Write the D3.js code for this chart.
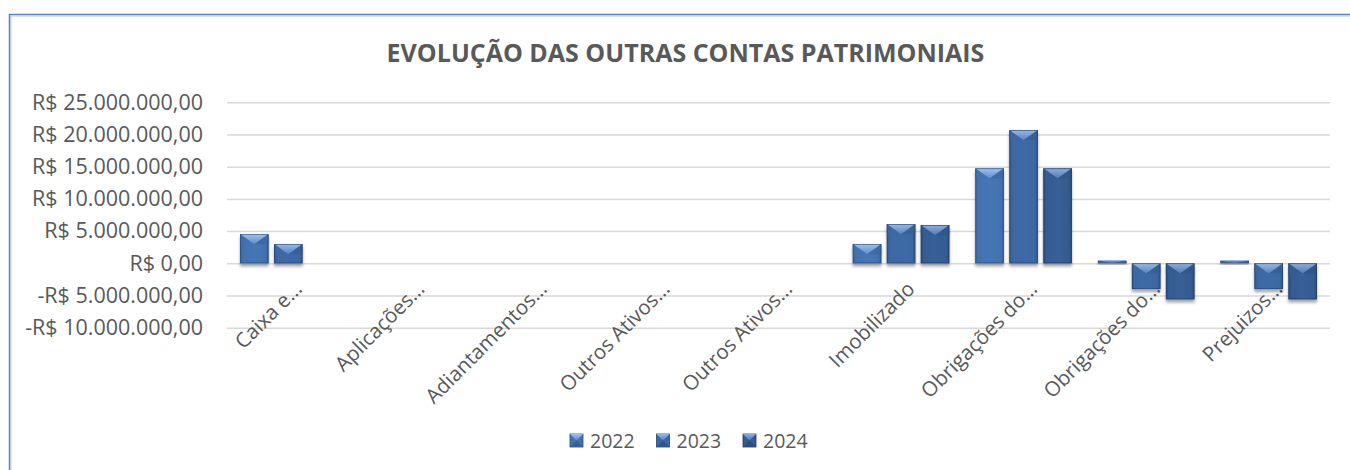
<!DOCTYPE html>
<html>
<head>
<meta charset="utf-8">
<script src="https://cdn.jsdelivr.net/npm/d3@7"></script>
<style>
  html, body { margin: 0; padding: 0; background: #fff; }
  svg { display: block; font-family: "Open Sans", sans-serif; }
</style>
</head>
<body>
<div id="chart"></div>
<script>
// -- chart data --
const categories = [
  'Caixa e…', 'Aplicações…', 'Adiantamentos…', 'Outros Ativos…', 'Outros Ativos…',
  'Imobilizado', 'Obrigações do…', 'Obrigações do…', 'Prejuizos…'
];
const years = ['2022', '2023', '2024'];
const values2022 = [4550000, 0, 0, 0, 0, 3000000, 14750000, 400000, 400000];
const values2023 = [3000000, 0, 0, 0, 0, 6100000, 20700000, -4000000, -4000000];
const values2024 = [0, 0, 0, 0, 0, 5950000, 14750000, -5600000, -5600000];
const yTicks = [-10000000, -5000000, 0, 5000000, 10000000, 15000000, 20000000, 25000000];
const titleText = 'EVOLUÇÃO DAS OUTRAS CONTAS PATRIMONIAIS';

const series = [values2022, values2023, values2024];
const W = 1350, H = 470;
const plot = { left: 227, right: 1330, top: 102.3, bottom: 327.7 };
const textColor = '#595959';
const barColors = {
  '2022': { body: '#4372b0', light: '#a2c2ec', mid: '#5e8ccb', edge: '#28497a' },
  '2023': { body: '#3c67a1', light: '#98b9e5', mid: '#5684c2', edge: '#23426d' },
  '2024': { body: '#355c92', light: '#8eafdc', mid: '#4e7ab6', edge: '#1e3960' },
};

const ptLocale = d3.formatLocale({
  decimal: ',', thousands: '.', grouping: [3], currency: ['R$ ', ''], minus: '-'
});
const fmtBRL = ptLocale.format('$,.2f');

const svg = d3.select('#chart').append('svg')
  .attr('width', W).attr('height', H)
  .attr('viewBox', [0, 0, W, H]);

const defs = svg.append('defs');
const shadow = defs.append('filter').attr('id', 'barShadow')
  .attr('x', '-20%').attr('y', '-20%').attr('width', '140%').attr('height', '160%');
shadow.append('feDropShadow')
  .attr('dx', 0).attr('dy', 3).attr('stdDeviation', 1.8)
  .attr('flood-color', '#000').attr('flood-opacity', 0.35);

years.forEach(yr => {
  const c = barColors[yr];
  const gb = defs.append('linearGradient').attr('id', 'body' + yr)
    .attr('x1', 0).attr('x2', 1).attr('y1', 0).attr('y2', 0);
  gb.append('stop').attr('offset', '0%').attr('stop-color', d3.color(c.body).darker(0.4));
  gb.append('stop').attr('offset', '12%').attr('stop-color', c.body);
  gb.append('stop').attr('offset', '50%').attr('stop-color', d3.color(c.body).brighter(0.1));
  gb.append('stop').attr('offset', '88%').attr('stop-color', c.body);
  gb.append('stop').attr('offset', '100%').attr('stop-color', d3.color(c.body).darker(0.5));
  const gt = defs.append('linearGradient').attr('id', 'top' + yr)
    .attr('x1', 0).attr('x2', 0).attr('y1', 0).attr('y2', 1);
  gt.append('stop').attr('offset', '0%').attr('stop-color', c.light);
  gt.append('stop').attr('offset', '100%').attr('stop-color', c.mid);
});

// frame (the reference is cropped, only top and left edges show)
svg.append('path')
  .attr('d', `M9.5,${H + 5}V14.5H${W + 5}`)
  .attr('fill', 'none').attr('stroke', '#5682c4').attr('stroke-width', 1.5);
svg.append('path')
  .attr('d', `M11,${H + 5}V16H${W + 5}`)
  .attr('fill', 'none').attr('stroke', '#b3cbec').attr('stroke-width', 1);

// title
svg.append('text')
  .attr('x', 685.5).attr('y', 62)
  .attr('text-anchor', 'middle')
  .attr('font-size', '25px').attr('font-weight', 700)
  .attr('fill', textColor)
  .text(titleText);

const y = d3.scaleLinear().domain([-10000000, 25000000]).range([plot.bottom, plot.top]);
const x0 = d3.scaleBand().domain(d3.range(categories.length)).range([plot.left, plot.right]);
const x1 = d3.scaleBand().domain(years).range([13, x0.bandwidth() - 13]).paddingInner(0.16);

// gridlines
svg.append('g')
  .attr('transform', `translate(${plot.left},0)`)
  .call(d3.axisLeft(y).tickValues(yTicks).tickSize(-(plot.right - plot.left)).tickFormat(''))
  .call(g => g.select('.domain').remove())
  .call(g => g.selectAll('line').attr('stroke', '#d9d9d9').attr('stroke-width', 1.5));

// y tick labels
svg.append('g')
  .attr('transform', `translate(${plot.left},0)`)
  .call(d3.axisLeft(y).tickValues(yTicks).tickSize(0).tickPadding(24).tickFormat(fmtBRL))
  .call(g => g.select('.domain').remove())
  .call(g => g.selectAll('text')
    .attr('font-size', '21.5px').attr('font-family', '"Open Sans", sans-serif')
    .attr('fill', textColor));

// category labels, rotated, placed by the zero line
svg.append('g').selectAll('text')
  .data(categories)
  .enter().append('text')
  .attr('text-anchor', 'end')
  .attr('font-size', '20.5px')
  .attr('fill', textColor)
  .attr('transform', (d, i) => {
    const cx = x0(i) + x0.bandwidth() / 2 + 15;
    const cy = y(0) + 27;
    return `translate(${cx},${cy}) rotate(-45)`;
  })
  .text(d => d);

// bars
const barData = [];
categories.forEach((c, i) => {
  years.forEach((yr, k) => {
    barData.push({ cat: i, year: yr, value: series[k][i] });
  });
});

const barG = svg.append('g').selectAll('g.bar')
  .data(barData.filter(d => d.value !== 0))
  .enter().append('g')
  .attr('class', 'bar')
  .attr('filter', 'url(#barShadow)');

barG.each(function (d) {
  const g = d3.select(this);
  const bx = x0(d.cat) + x1(d.year);
  const bw = x1.bandwidth();
  const top = Math.min(y(d.value), y(0));
  const bh = Math.abs(y(d.value) - y(0));
  const c = barColors[d.year];
  const dep = Math.min(bw * 0.36, bh);

  g.append('rect')
    .attr('x', bx).attr('y', top).attr('width', bw).attr('height', bh)
    .attr('fill', `url(#body${d.year})`);

  // bevelled top face
  g.append('path')
    .attr('d', `M${bx},${top}H${bx + bw}L${bx + bw / 2},${top + dep}Z`)
    .attr('fill', `url(#top${d.year})`);
  g.append('path')
    .attr('d', `M${bx},${top}L${bx + bw / 2},${top + dep}L${bx},${top + dep}Z`)
    .attr('fill', c.body).attr('opacity', 0.6);
  g.append('path')
    .attr('d', `M${bx + bw},${top}L${bx + bw / 2},${top + dep}L${bx + bw},${top + dep}Z`)
    .attr('fill', d3.color(c.body).darker(0.3)).attr('opacity', 0.6);

  g.append('rect')
    .attr('x', bx + 0.4).attr('y', top + 0.4)
    .attr('width', Math.max(0, bw - 0.8)).attr('height', Math.max(0, bh - 0.8))
    .attr('fill', 'none').attr('stroke', c.edge).attr('stroke-width', 0.8).attr('opacity', 0.75);
});

// legend
const legend = svg.append('g').selectAll('g.legend-item')
  .data(years)
  .enter().append('g')
  .attr('class', 'legend-item')
  .attr('transform', (d, i) => `translate(${570 + i * 86.5},434)`);

legend.each(function (yr) {
  const g = d3.select(this);
  const c = barColors[yr];
  g.append('rect').attr('width', 13).attr('height', 13).attr('fill', c.body)
    .attr('stroke', c.edge).attr('stroke-width', 0.8);
  g.append('path').attr('d', 'M0,0H13L6.5,6.5Z').attr('fill', `url(#top${yr})`);
  g.append('path').attr('d', 'M0,13H13L6.5,6.5Z').attr('fill', d3.color(c.body).darker(0.5));
});

legend.append('text')
  .attr('x', 20).attr('y', 13.5)
  .attr('font-size', '19.5px')
  .attr('fill', textColor)
  .text(d => d);
</script>
</body>
</html>
